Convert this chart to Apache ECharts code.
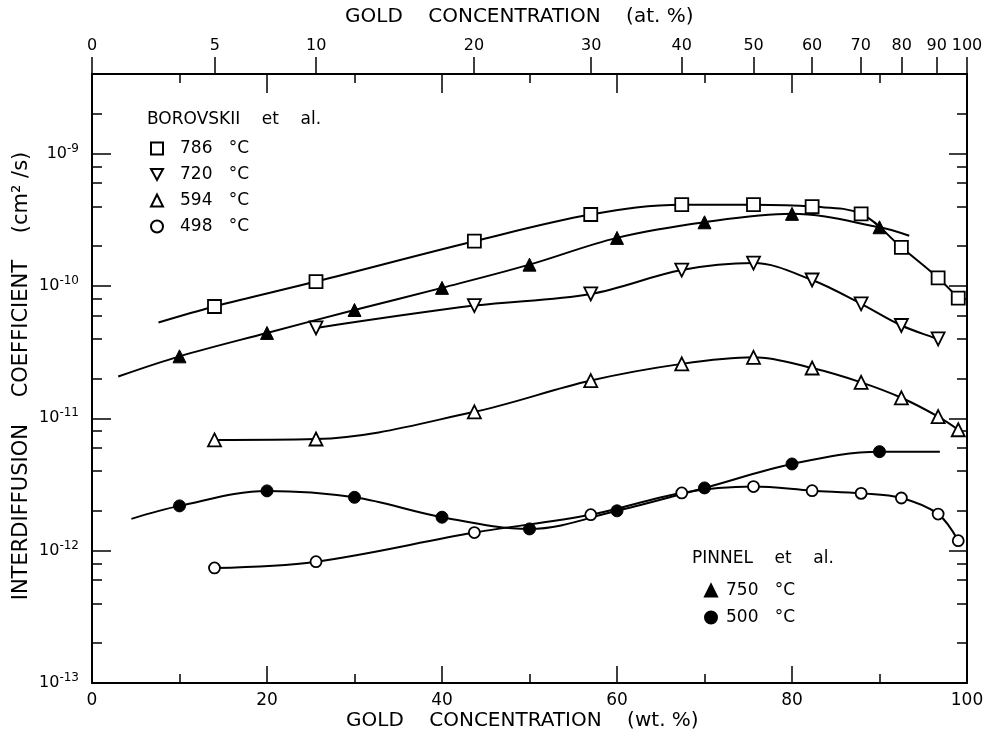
<!DOCTYPE html>
<html><head><meta charset="utf-8">
<script src="https://cdn.jsdelivr.net/npm/echarts@6/dist/echarts.min.js"></script>
<style>html,body{margin:0;padding:0;background:#fff}#c{width:983px;height:738px}</style>
</head><body><div id="c"></div>
<script>
// ---- data (x = gold concentration, wt.%; y = interdiffusion coefficient, cm^2/s) ----
const wtBorovskii = [14.0, 25.6, 43.7, 57.0, 67.4, 75.6, 82.3, 87.9, 92.5, 96.7, 99.0];
const d786 = [7.0e-11, 1.08e-10, 2.18e-10, 3.47e-10, 4.12e-10, 4.12e-10, 3.98e-10, 3.51e-10, 1.96e-10, 1.15e-10, 8.1e-11];
const wt720 = [25.6, 43.7, 57.0, 67.4, 75.6, 82.3, 87.9, 92.5, 96.7];
const d720 = [4.82e-11, 7.11e-11, 8.71e-11, 1.32e-10, 1.49e-10, 1.11e-10, 7.33e-11, 5.03e-11, 3.98e-11];
const d594 = [6.87e-12, 6.98e-12, 1.12e-11, 1.93e-11, 2.58e-11, 2.89e-11, 2.40e-11, 1.87e-11, 1.43e-11, 1.03e-11, 8.2e-12];
const d498 = [7.4e-13, 8.26e-13, 1.37e-12, 1.87e-12, 2.73e-12, 3.05e-12, 2.84e-12, 2.71e-12, 2.50e-12, 1.89e-12, 1.19e-12];
const wtPinnel = [10, 20, 30, 40, 50, 60, 70, 80, 90];
const d750 = [2.94e-11, 4.42e-11, 6.59e-11, 9.68e-11, 1.45e-10, 2.31e-10, 3.03e-10, 3.51e-10, 2.78e-10];
const d500 = [2.18e-12, 2.83e-12, 2.53e-12, 1.79e-12, 1.46e-12, 2.00e-12, 2.98e-12, 4.52e-12, 5.60e-12];
// ends of the fitted curves
const curve786Start = [7.6, 5.3e-11];
const curve750Start = [3.0, 2.07e-11];
const curve750End = [93.4, 2.4e-10];
const curve500Start = [4.5, 1.74e-12];
const curve500End = [96.9, 5.6e-12];
// ---- axes ----
const atTicks = [0, 5, 10, 20, 30, 40, 50, 60, 70, 80, 90, 100];   // top axis, at.%
const yMin = 1e-13, yMax = 4e-9;
const decades = [-13, -12, -11, -10, -9];
const minorMantissas = [2, 4, 6, 8];
const names = ['786 °C', '720 °C', '594 °C', '498 °C', '750 °C', '500 °C'];

const AU = 196.97, CU = 63.546;
const atToWt = a => 100 * a * AU / (a * AU + (100 - a) * CU);
const atPos = atTicks.map(atToWt);
const zip = (xs, ys) => xs.map((x, i) => [x, ys[i]]);
const minorLog = [];
decades.forEach(d => minorMantissas.forEach(m => { const v = d + Math.log10(m); if (v <= Math.log10(yMax)) minorLog.push(v); }));

const FONT = 'DejaVu Sans';
const BLACK = '#000';
const chart = echarts.init(document.getElementById('c'), null, {renderer: 'canvas'});

const lineStyleAxis = {show: true, lineStyle: {color: BLACK, width: 2}, onZero: false};
const noLine = {show: false, onZero: false};

function curve(name, data) {
  return {type: 'line', name: name, data: data, smooth: 0.35, showSymbol: false, symbol: 'none',
    silent: true, lineStyle: {color: BLACK, width: 2}, z: 2, xAxisIndex: 0, yAxisIndex: 0};
}
function marks(name, data, symbol, filled, size, rotate) {
  return {type: 'scatter', name: name, data: data, symbol: symbol, symbolSize: size, symbolRotate: rotate || 0,
    itemStyle: {color: filled ? BLACK : '#fff', borderColor: BLACK, borderWidth: filled ? 1 : 1.8, opacity: 1},
    z: 5, xAxisIndex: 0, yAxisIndex: 0};
}
const invTri = 'path://M0,0 L10,0 L5,9 Z';

const option = {
  animation: false,
  backgroundColor: '#fff',
  grid: {left: 92, right: 16, top: 74, bottom: 55, containLabel: false, outerBoundsMode: 'none'},
  xAxis: [
    {type: 'value', position: 'bottom', min: 0, max: 100, interval: 20,
      axisLine: lineStyleAxis,
      axisTick: {show: true, inside: true, length: 17, lineStyle: {color: BLACK, width: 1.5}},
      minorTick: {show: true, splitNumber: 2, length: 9, lineStyle: {color: BLACK, width: 1.5}},
      axisLabel: {color: BLACK, fontFamily: FONT, fontSize: 17, margin: 9},
      splitLine: {show: false}},
    {type: 'value', position: 'top', min: 0, max: 100, interval: 20,
      axisLine: lineStyleAxis,
      axisTick: {show: true, inside: true, length: 19, lineStyle: {color: BLACK, width: 1.5}},
      minorTick: {show: true, splitNumber: 2, length: 9, lineStyle: {color: BLACK, width: 1.5}},
      axisLabel: {show: false}, splitLine: {show: false}},
    {type: 'value', position: 'top', min: 0, max: 100,
      axisLine: noLine,
      axisTick: {show: true, inside: false, length: 17, customValues: atPos, lineStyle: {color: BLACK, width: 1.5}},
      axisLabel: {show: true, customValues: atPos, color: BLACK, fontFamily: FONT, fontSize: 16, margin: 20,
        formatter: v => { const i = atPos.findIndex(p => Math.abs(p - v) < 1e-6); return i >= 0 ? String(atTicks[i]) : ''; }},
      splitLine: {show: false}}
  ],
  yAxis: [
    {type: 'log', logBase: 10, position: 'left', min: yMin, max: yMax, interval: 1,
      axisLine: lineStyleAxis,
      axisTick: {show: true, inside: true, length: 19, lineStyle: {color: BLACK, width: 1.5}},
      axisLabel: {show: true, showMaxLabel: false, margin: 13, color: BLACK, fontFamily: FONT,
        formatter: v => { const l = Math.log10(v); const e = Math.round(l); if (Math.abs(l - e) > 0.01) return ''; return '{b|10}{s|' + e + '}'; },
        rich: {b: {fontSize: 16, fontFamily: FONT, color: BLACK}, s: {fontSize: 12, fontFamily: FONT, color: BLACK, padding: [0, 0, 10, 0]}}},
      splitLine: {show: false}, minorTick: {show: false}},
    {type: 'value', position: 'left', min: Math.log10(yMin), max: Math.log10(yMax),
      axisLine: noLine,
      axisTick: {show: true, inside: true, length: 10, customValues: minorLog, lineStyle: {color: BLACK, width: 1.5}},
      axisLabel: {show: false}, splitLine: {show: false}},
    {type: 'value', position: 'right', min: Math.log10(yMin), max: Math.log10(yMax),
      axisLine: lineStyleAxis,
      axisTick: {show: true, inside: true, length: 18, customValues: decades, lineStyle: {color: BLACK, width: 1.5}},
      axisLabel: {show: false}, splitLine: {show: false}},
    {type: 'value', position: 'right', min: Math.log10(yMin), max: Math.log10(yMax),
      axisLine: noLine,
      axisTick: {show: true, inside: true, length: 10, customValues: minorLog, lineStyle: {color: BLACK, width: 1.5}},
      axisLabel: {show: false}, splitLine: {show: false}}
  ],
  legend: [
    {data: [names[0], {name: names[1], icon: invTri}, names[2], names[3]], orient: 'vertical', left: 150, top: 140,
      padding: 0, itemWidth: 12, itemHeight: 12, itemGap: 9,
      selectedMode: false, formatter: n => n.replace(' ', '   '),
      textStyle: {color: BLACK, fontFamily: FONT, fontSize: 17, padding: [0, 0, 0, 12]}},
    {data: names.slice(4), orient: 'vertical', left: 704, top: 582, padding: 0, itemWidth: 12, itemHeight: 12, itemGap: 10,
      selectedMode: false, formatter: n => n.replace(' ', '   '),
      textStyle: {color: BLACK, fontFamily: FONT, fontSize: 17, padding: [0, 0, 0, 4]}}
  ],
  graphic: [
    {type: 'text', left: 147, top: 111, style: {text: 'BOROVSKII    et    al.', fontFamily: FONT, fontSize: 17, fill: BLACK}},
    {type: 'text', left: 692, top: 550, style: {text: 'PINNEL    et    al.', fontFamily: FONT, fontSize: 17, fill: BLACK}},
    {type: 'text', left: 345, top: 7, style: {text: 'GOLD    CONCENTRATION    (at. %)', fontFamily: FONT, fontSize: 20, fill: BLACK}},
    {type: 'text', left: 346, top: 711, style: {text: 'GOLD    CONCENTRATION    (wt. %)', fontFamily: FONT, fontSize: 20, fill: BLACK}},
    {type: 'text', x: 22, y: 376, rotation: Math.PI / 2,
      style: {text: 'INTERDIFFUSION    COEFFICIENT    (cm² /s)', fontFamily: FONT, fontSize: 21, fill: BLACK, align: 'center', verticalAlign: 'middle'}}
  ],
  series: [
    curve('c786', [curve786Start].concat(zip(wtBorovskii, d786))),
    curve('c720', zip(wt720, d720)),
    curve('c594', zip(wtBorovskii, d594)),
    curve('c498', zip(wtBorovskii, d498)),
    curve('c750', [curve750Start].concat(zip(wtPinnel, d750), [curve750End])),
    curve('c500', [curve500Start].concat(zip(wtPinnel, d500), [curve500End])),
    marks(names[0], zip(wtBorovskii, d786), 'rect', false, 13),
    marks(names[1], zip(wt720, d720), 'triangle', false, 13, 180),
    marks(names[2], zip(wtBorovskii, d594), 'triangle', false, 13),
    marks(names[3], zip(wtBorovskii, d498), 'circle', false, 11),
    marks(names[4], zip(wtPinnel, d750), 'triangle', true, 13),
    marks(names[5], zip(wtPinnel, d500), 'circle', true, 12)
  ]
};
chart.setOption(option);
</script></body></html>
